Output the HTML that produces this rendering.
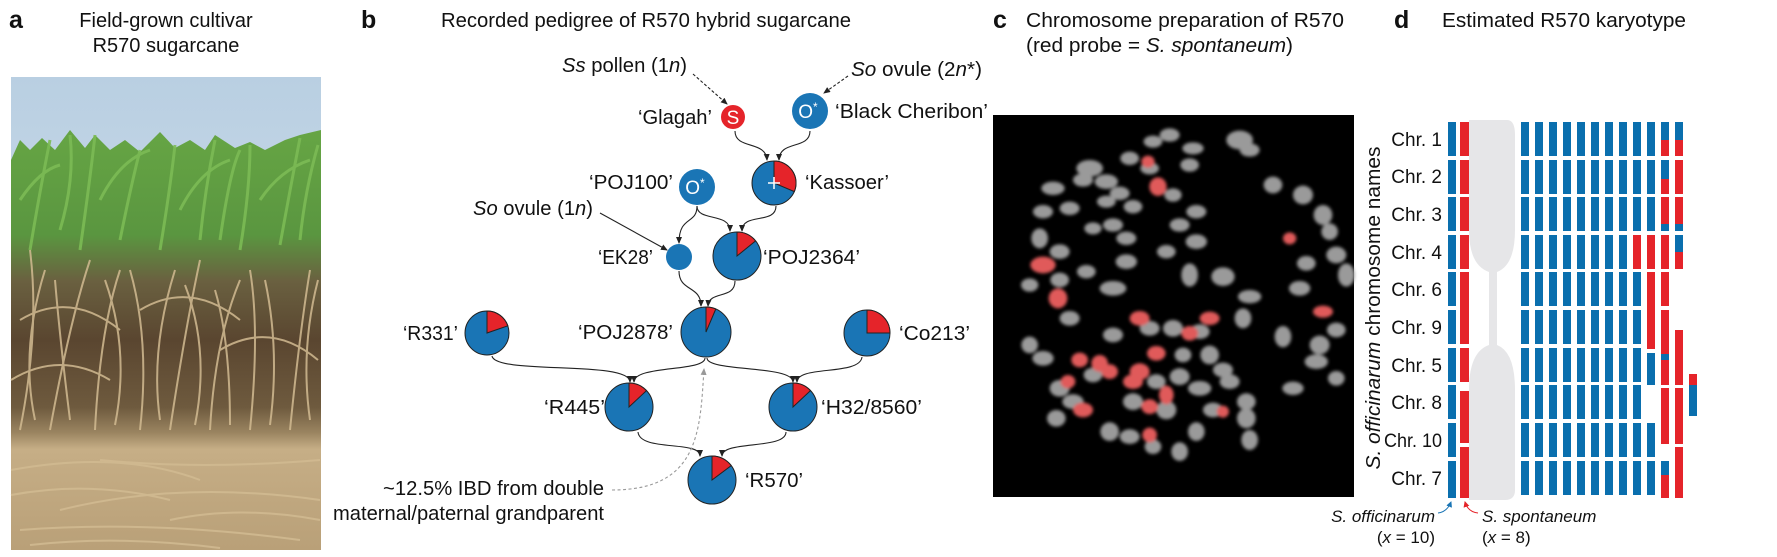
<!DOCTYPE html>
<html><head><meta charset="utf-8"><style>
html,body{margin:0;padding:0;background:#fff}
svg{display:block}
text{font-family:"Liberation Sans",Arial,sans-serif;fill:#111}
</style></head><body>
<svg width="1777" height="557" viewBox="0 0 1777 557" xmlns="http://www.w3.org/2000/svg">
<defs>
<marker id="ar" markerWidth="8" markerHeight="8" refX="6" refY="3" orient="auto" markerUnits="userSpaceOnUse"><path d="M0,0 L7,3 L0,6 Z" fill="#222"/></marker>
<marker id="arg" markerWidth="8" markerHeight="8" refX="6" refY="3" orient="auto" markerUnits="userSpaceOnUse"><path d="M0,0 L7,3 L0,6 Z" fill="#999"/></marker>
<marker id="arb" markerWidth="8" markerHeight="8" refX="5" refY="3" orient="auto" markerUnits="userSpaceOnUse"><path d="M0,0 L6,3 L0,6 Z" fill="#1a75b5"/></marker>
<marker id="arr" markerWidth="8" markerHeight="8" refX="5" refY="3" orient="auto" markerUnits="userSpaceOnUse"><path d="M0,0 L6,3 L0,6 Z" fill="#e5242a"/></marker>
<linearGradient id="sky" x1="0" y1="0" x2="0" y2="1"><stop offset="0" stop-color="#b9cfe2"/><stop offset="1" stop-color="#dbe6ee"/></linearGradient>
<linearGradient id="fld" x1="0" y1="0" x2="0" y2="1">
<stop offset="0" stop-color="#66a544"/><stop offset="0.25" stop-color="#5a9640"/><stop offset="0.36" stop-color="#6a6040"/><stop offset="0.5" stop-color="#5a4630"/><stop offset="0.66" stop-color="#6e5a3e"/><stop offset="0.72" stop-color="#9a8460"/><stop offset="0.76" stop-color="#c6ae86"/><stop offset="1" stop-color="#b9a078"/></linearGradient>
<filter id="bl" x="-50%" y="-50%" width="200%" height="200%"><feGaussianBlur stdDeviation="5"/></filter>
</defs>

<text x="9" y="28" font-size="25" font-weight="bold">a</text>
<text x="166" y="27" font-size="20" text-anchor="middle">Field-grown cultivar</text>
<text x="166" y="52" font-size="20" text-anchor="middle">R570 sugarcane</text>
<text x="361" y="28" font-size="25" font-weight="bold">b</text>
<text x="441" y="27" font-size="20" textLength="410" lengthAdjust="spacingAndGlyphs">Recorded pedigree of R570 hybrid sugarcane</text>
<text x="993" y="28" font-size="25" font-weight="bold">c</text>
<text x="1026" y="27" font-size="20" textLength="318" lengthAdjust="spacingAndGlyphs">Chromosome preparation of R570</text>
<text x="1026" y="52" font-size="20" textLength="267" lengthAdjust="spacingAndGlyphs">(red probe = <tspan font-style="italic">S. spontaneum</tspan>)</text>
<text x="1394" y="28" font-size="25" font-weight="bold">d</text>
<text x="1442" y="27" font-size="20" textLength="244" lengthAdjust="spacingAndGlyphs">Estimated R570 karyotype</text>

<!-- Photo a -->
<rect x="11" y="77" width="310" height="473" fill="url(#sky)"/>
<path d="M11,160 L20,140 30,150 42,138 55,150 70,130 85,148 95,135 110,150 125,140 140,152 160,132 175,148 190,140 205,150 215,135 235,148 250,142 265,150 285,140 300,135 321,130 L321,550 L11,550 Z" fill="url(#fld)"/>
<g stroke="#7cbb55" stroke-width="3" fill="none" opacity="0.9">
<path d="M30,250 Q40,190 50,140"/><path d="M80,250 Q90,180 95,135"/><path d="M120,240 Q130,190 140,150"/><path d="M160,250 Q170,190 175,145"/><path d="M200,240 Q205,190 215,140"/><path d="M240,250 Q250,190 250,145"/><path d="M280,245 Q290,190 300,138"/><path d="M60,230 Q75,180 70,135"/><path d="M220,240 Q230,170 240,150"/><path d="M300,240 Q305,190 318,145"/>
<path d="M100,200 Q120,160 150,150"/><path d="M180,210 Q200,170 230,160"/><path d="M20,200 Q40,170 60,165"/><path d="M260,200 Q280,170 310,160"/>
</g>
<g stroke="#d2bb92" stroke-width="2" fill="none" opacity="0.85">
<path d="M20,430 Q40,330 30,250"/><path d="M50,430 Q70,320 90,260"/><path d="M95,430 Q100,330 120,270"/><path d="M140,430 Q150,340 130,270"/><path d="M170,430 Q185,330 200,260"/><path d="M210,430 Q215,340 240,280"/><path d="M250,430 Q260,330 250,270"/><path d="M290,430 Q300,330 310,270"/><path d="M70,420 Q60,340 55,280"/><path d="M230,425 Q230,340 215,290"/>
<path d="M35,420 Q20,350 45,270"/><path d="M115,425 Q130,350 105,280"/><path d="M160,420 Q150,350 175,270"/><path d="M195,425 Q210,350 185,285"/><path d="M270,425 Q280,350 265,280"/><path d="M310,420 Q300,350 318,280"/>
<path d="M20,320 Q70,290 120,330"/><path d="M140,310 Q190,280 240,320"/><path d="M220,350 Q270,320 318,360"/><path d="M11,380 Q60,350 110,380"/>
<path d="M11,470 Q120,450 200,480"/><path d="M60,510 Q180,480 320,500"/><path d="M20,530 Q150,520 300,540"/><path d="M100,460 Q200,470 320,460"/><path d="M11,495 Q90,480 170,500"/><path d="M170,520 Q240,505 320,520"/><path d="M30,545 Q120,535 220,548"/>
</g>

<g fill="none" stroke="#222" stroke-width="1.1">
<path d="M693,74 L727,104" stroke-dasharray="3,2" marker-end="url(#ar)"/>
<path d="M848,76 L824,93" stroke-dasharray="3,2" marker-end="url(#ar)"/>
<path d="M735,131 C735,150 766,140 767,160" marker-end="url(#ar)"/>
<path d="M810,131 C810,150 779,140 779,160" marker-end="url(#ar)"/>
<path d="M697,206 C697,225 679,215 679,243" marker-end="url(#ar)"/>
<path d="M697,206 C697,222 730,212 730,231" marker-end="url(#ar)"/>
<path d="M776,206 C776,225 742,212 742,231" marker-end="url(#ar)"/>
<path d="M600,213 L667,250" marker-end="url(#ar)"/>
<path d="M679,271 C679,292 701,285 701,306" marker-end="url(#ar)"/>
<path d="M735,281 C735,300 709,290 708,306" marker-end="url(#ar)"/>
<path d="M492,356 C495,375 630,360 630,382" marker-end="url(#ar)"/>
<path d="M705,358 C705,372 634,365 634,382" marker-end="url(#ar)"/>
<path d="M707,358 C707,372 793,365 793,382" marker-end="url(#ar)"/>
<path d="M862,357 C860,376 797,365 797,382" marker-end="url(#ar)"/>
<path d="M638,432 C640,452 700,440 700,456" marker-end="url(#ar)"/>
<path d="M786,432 C786,450 722,440 722,456" marker-end="url(#ar)"/>
<path d="M612,490 C700,490 700,430 704,369" stroke="#999" stroke-dasharray="3,2.5" marker-end="url(#arg)"/>
</g>

<circle cx="733" cy="117" r="12" fill="#e5242a"/>
<text x="733" y="124" font-size="19" text-anchor="middle" style="fill:#fff">S</text>
<circle cx="810" cy="111" r="18" fill="#1a75b5"/>
<text x="808" y="118" font-size="19" text-anchor="middle" style="fill:#fff">O<tspan font-size="12" dy="-7">*</tspan></text>
<circle cx="697" cy="187" r="18" fill="#1a75b5"/>
<text x="695" y="194" font-size="19" text-anchor="middle" style="fill:#fff">O<tspan font-size="12" dy="-7">*</tspan></text>
<circle cx="679" cy="257" r="13" fill="#1a75b5"/>

<g stroke="#222" stroke-width="1">
<circle cx="774" cy="183" r="22" fill="#1a75b5"/><path d="M774,183 L774,161 A22,22 0 0 1 794.3,191.6 Z" fill="#e5242a"/>
<circle cx="737" cy="256" r="24" fill="#1a75b5"/><path d="M737,256 L737,232 A24,24 0 0 1 755.6,240.9 Z" fill="#e5242a"/>
<circle cx="706" cy="332" r="25" fill="#1a75b5"/><path d="M706,332 L706,307 A25,25 0 0 1 715.8,309 Z" fill="#e5242a"/>
<circle cx="487" cy="333" r="22" fill="#1a75b5"/><path d="M487,333 L487,311 A22,22 0 0 1 507.8,325.8 Z" fill="#e5242a"/>
<circle cx="867" cy="333" r="23" fill="#1a75b5"/><path d="M867,333 L867,310 A23,23 0 0 1 890,333 Z" fill="#e5242a"/>
<circle cx="629" cy="407" r="24" fill="#1a75b5"/><path d="M629,407 L629,383 A24,24 0 0 1 646.5,390.6 Z" fill="#e5242a"/>
<circle cx="793" cy="407" r="24" fill="#1a75b5"/><path d="M793,407 L793,383 A24,24 0 0 1 810.5,390.6 Z" fill="#e5242a"/>
<circle cx="712" cy="480" r="24" fill="#1a75b5"/><path d="M712,480 L712,456 A24,24 0 0 1 731.2,465.6 Z" fill="#e5242a"/>
</g>
<path d="M768,183 h12 M774,177 v12" stroke="#fff" stroke-width="1.5"/>

<g font-size="20">
<text x="562" y="72" textLength="125" lengthAdjust="spacingAndGlyphs"><tspan font-style="italic">Ss</tspan> pollen (1<tspan font-style="italic">n</tspan>)</text>
<text x="851" y="76" textLength="131" lengthAdjust="spacingAndGlyphs"><tspan font-style="italic">So</tspan> ovule (2<tspan font-style="italic">n</tspan>*)</text>
<text x="638" y="124" textLength="74" lengthAdjust="spacingAndGlyphs">‘Glagah’</text>
<text x="835" y="118" textLength="153" lengthAdjust="spacingAndGlyphs">‘Black Cheribon’</text>
<text x="805" y="189" textLength="84" lengthAdjust="spacingAndGlyphs">‘Kassoer’</text>
<text x="589" y="189" textLength="84" lengthAdjust="spacingAndGlyphs">‘POJ100’</text>
<text x="473" y="215" textLength="120" lengthAdjust="spacingAndGlyphs"><tspan font-style="italic">So</tspan> ovule (1<tspan font-style="italic">n</tspan>)</text>
<text x="598" y="264" textLength="55" lengthAdjust="spacingAndGlyphs">‘EK28’</text>
<text x="763" y="264" textLength="97" lengthAdjust="spacingAndGlyphs">‘POJ2364’</text>
<text x="403" y="340" textLength="55" lengthAdjust="spacingAndGlyphs">‘R331’</text>
<text x="578" y="339" textLength="95" lengthAdjust="spacingAndGlyphs">‘POJ2878’</text>
<text x="899" y="340" textLength="71" lengthAdjust="spacingAndGlyphs">‘Co213’</text>
<text x="544" y="414" textLength="61" lengthAdjust="spacingAndGlyphs">‘R445’</text>
<text x="821" y="414" textLength="101" lengthAdjust="spacingAndGlyphs">‘H32/8560’</text>
<text x="745" y="487" textLength="58" lengthAdjust="spacingAndGlyphs">‘R570’</text>
<text x="383" y="495" textLength="221" lengthAdjust="spacingAndGlyphs">~12.5% IBD from double</text>
<text x="333" y="520" textLength="271" lengthAdjust="spacingAndGlyphs">maternal/paternal grandparent</text>
</g>

<rect x="993" y="115" width="361" height="382" fill="#000"/>
<g transform="translate(993,115) scale(0.3333)" filter="url(#bl)">
<g fill="#9a9a9a">
<ellipse cx="530" cy="60" rx="30" ry="20"/><ellipse cx="600" cy="100" rx="32" ry="18"/><ellipse cx="740" cy="75" rx="40" ry="28"/><ellipse cx="770" cy="105" rx="30" ry="20"/><ellipse cx="480" cy="80" rx="28" ry="18"/><ellipse cx="410" cy="130" rx="28" ry="20"/><ellipse cx="470" cy="160" rx="28" ry="18"/><ellipse cx="590" cy="150" rx="28" ry="20"/><ellipse cx="290" cy="160" rx="40" ry="25"/><ellipse cx="340" cy="200" rx="35" ry="22"/><ellipse cx="180" cy="220" rx="35" ry="20"/><ellipse cx="230" cy="280" rx="30" ry="20"/><ellipse cx="150" cy="290" rx="30" ry="20"/><ellipse cx="270" cy="195" rx="30" ry="20"/><ellipse cx="380" cy="235" rx="30" ry="20"/><ellipse cx="420" cy="275" rx="28" ry="20"/><ellipse cx="340" cy="260" rx="28" ry="18"/><ellipse cx="360" cy="330" rx="30" ry="20"/><ellipse cx="400" cy="370" rx="30" ry="20"/><ellipse cx="300" cy="340" rx="26" ry="18"/><ellipse cx="140" cy="370" rx="25" ry="30"/><ellipse cx="200" cy="410" rx="30" ry="22"/><ellipse cx="280" cy="470" rx="28" ry="20"/><ellipse cx="400" cy="440" rx="32" ry="22"/><ellipse cx="360" cy="520" rx="40" ry="22"/><ellipse cx="520" cy="410" rx="28" ry="20"/><ellipse cx="560" cy="330" rx="30" ry="20"/><ellipse cx="610" cy="290" rx="30" ry="20"/><ellipse cx="610" cy="380" rx="32" ry="22"/><ellipse cx="540" cy="240" rx="26" ry="20"/><ellipse cx="590" cy="480" rx="25" ry="35"/><ellipse cx="690" cy="485" rx="35" ry="28"/><ellipse cx="770" cy="545" rx="35" ry="20"/><ellipse cx="750" cy="610" rx="25" ry="30"/><ellipse cx="840" cy="210" rx="28" ry="25"/><ellipse cx="930" cy="240" rx="30" ry="28"/><ellipse cx="990" cy="300" rx="28" ry="30"/><ellipse cx="1010" cy="350" rx="25" ry="25"/><ellipse cx="1030" cy="420" rx="30" ry="25"/><ellipse cx="940" cy="445" rx="28" ry="22"/><ellipse cx="920" cy="520" rx="32" ry="22"/><ellipse cx="1060" cy="480" rx="25" ry="35"/><ellipse cx="870" cy="665" rx="25" ry="32"/><ellipse cx="980" cy="690" rx="30" ry="28"/><ellipse cx="970" cy="740" rx="35" ry="22"/><ellipse cx="1030" cy="790" rx="25" ry="22"/><ellipse cx="900" cy="820" rx="32" ry="20"/><ellipse cx="1030" cy="645" rx="28" ry="22"/><ellipse cx="110" cy="690" rx="25" ry="25"/><ellipse cx="150" cy="730" rx="32" ry="22"/><ellipse cx="230" cy="610" rx="30" ry="22"/><ellipse cx="360" cy="660" rx="30" ry="22"/><ellipse cx="470" cy="640" rx="30" ry="22"/><ellipse cx="540" cy="640" rx="30" ry="25"/><ellipse cx="620" cy="650" rx="30" ry="22"/><ellipse cx="650" cy="720" rx="28" ry="28"/><ellipse cx="690" cy="765" rx="30" ry="22"/><ellipse cx="710" cy="800" rx="30" ry="22"/><ellipse cx="620" cy="820" rx="35" ry="22"/><ellipse cx="560" cy="785" rx="30" ry="25"/><ellipse cx="490" cy="800" rx="28" ry="22"/><ellipse cx="520" cy="885" rx="30" ry="28"/><ellipse cx="420" cy="860" rx="30" ry="25"/><ellipse cx="350" cy="950" rx="28" ry="28"/><ellipse cx="410" cy="965" rx="30" ry="22"/><ellipse cx="560" cy="1010" rx="25" ry="28"/><ellipse cx="610" cy="950" rx="25" ry="28"/><ellipse cx="480" cy="995" rx="25" ry="22"/><ellipse cx="200" cy="820" rx="30" ry="25"/><ellipse cx="240" cy="860" rx="32" ry="22"/><ellipse cx="190" cy="910" rx="28" ry="25"/><ellipse cx="300" cy="780" rx="28" ry="22"/><ellipse cx="660" cy="885" rx="30" ry="22"/><ellipse cx="760" cy="910" rx="28" ry="30"/><ellipse cx="770" cy="975" rx="25" ry="30"/><ellipse cx="200" cy="495" rx="28" ry="22"/><ellipse cx="110" cy="510" rx="26" ry="20"/><ellipse cx="760" cy="860" rx="28" ry="25"/><ellipse cx="570" cy="720" rx="25" ry="22"/>
</g>
<g fill="#e05a5a">
<ellipse cx="495" cy="215" rx="26" ry="28"/><ellipse cx="465" cy="140" rx="20" ry="18"/><ellipse cx="150" cy="450" rx="38" ry="25"/><ellipse cx="195" cy="550" rx="28" ry="30"/><ellipse cx="440" cy="610" rx="30" ry="22"/><ellipse cx="650" cy="610" rx="30" ry="20"/><ellipse cx="590" cy="655" rx="25" ry="22"/><ellipse cx="490" cy="715" rx="28" ry="22"/><ellipse cx="260" cy="735" rx="25" ry="22"/><ellipse cx="320" cy="745" rx="25" ry="25"/><ellipse cx="350" cy="770" rx="25" ry="22"/><ellipse cx="440" cy="770" rx="30" ry="25"/><ellipse cx="420" cy="800" rx="30" ry="22"/><ellipse cx="520" cy="840" rx="22" ry="28"/><ellipse cx="470" cy="875" rx="25" ry="22"/><ellipse cx="270" cy="885" rx="30" ry="22"/><ellipse cx="225" cy="800" rx="22" ry="20"/><ellipse cx="470" cy="960" rx="22" ry="22"/><ellipse cx="690" cy="890" rx="18" ry="18"/><ellipse cx="990" cy="590" rx="30" ry="18"/><ellipse cx="890" cy="370" rx="20" ry="18"/>
</g>
</g>

<path d="M1469,120 L1507,120 Q1515,120 1515,135 L1515,230 Q1515,265 1497,272 L1497,345 Q1515,352 1515,390 L1515,490 Q1515,500 1505,500 L1469,500 L1469,390 Q1469,352 1489,345 L1489,272 Q1469,265 1469,230 Z" fill="#e6e6e8"/>
<g font-size="19" text-anchor="end">
<text x="1442" y="146">Chr. 1</text><text x="1442" y="183">Chr. 2</text><text x="1442" y="221">Chr. 3</text><text x="1442" y="259">Chr. 4</text><text x="1442" y="296">Chr. 6</text><text x="1442" y="334">Chr. 9</text><text x="1442" y="372">Chr. 5</text><text x="1442" y="409">Chr. 8</text><text x="1442" y="447" textLength="58" lengthAdjust="spacingAndGlyphs">Chr. 10</text><text x="1442" y="485">Chr. 7</text>
</g>
<text transform="translate(1380,308) rotate(-90)" font-size="20" text-anchor="middle" textLength="323" lengthAdjust="spacingAndGlyphs"><tspan font-style="italic">S. officinarum</tspan> chromosome names</text>

<g fill="#0a6fae">
<rect x="1448" y="122" width="8" height="34"/><rect x="1448" y="160" width="8" height="34"/><rect x="1448" y="197" width="8" height="34"/><rect x="1448" y="235" width="8" height="34"/><rect x="1448" y="272" width="8" height="34"/><rect x="1448" y="310" width="8" height="34"/><rect x="1448" y="348" width="8" height="34"/><rect x="1448" y="385" width="8" height="34"/><rect x="1448" y="423" width="8" height="34"/><rect x="1448" y="461" width="8" height="37"/>
</g>
<g fill="#e5242a">
<rect x="1460" y="122" width="9" height="34"/><rect x="1460" y="160" width="9" height="34"/><rect x="1460" y="197" width="9" height="34"/><rect x="1460" y="235" width="9" height="34"/><rect x="1460" y="272" width="9" height="72"/><rect x="1460" y="348" width="9" height="34"/><rect x="1460" y="391" width="9" height="52"/><rect x="1460" y="447" width="9" height="51"/>
</g>

<g id="row" fill="#0a6fae">
<rect x="1521" y="122" width="8" height="34"/><rect x="1535" y="122" width="8" height="34"/><rect x="1549" y="122" width="8" height="34"/><rect x="1563" y="122" width="8" height="34"/><rect x="1577" y="122" width="8" height="34"/><rect x="1591" y="122" width="8" height="34"/><rect x="1605" y="122" width="8" height="34"/><rect x="1619" y="122" width="8" height="34"/>
</g>
<use href="#row" y="38"/><use href="#row" y="75"/><use href="#row" y="113"/><use href="#row" y="150"/><use href="#row" y="188"/><use href="#row" y="226"/><use href="#row" y="263"/><use href="#row" y="301"/><use href="#row" y="339"/>
<g fill="#0a6fae">
<rect x="1633" y="122" width="8" height="34"/><rect x="1633" y="160" width="8" height="34"/><rect x="1633" y="197" width="8" height="34"/><rect x="1633" y="272" width="8" height="34"/><rect x="1633" y="310" width="8" height="34"/><rect x="1633" y="348" width="8" height="34"/><rect x="1633" y="385" width="8" height="34"/><rect x="1633" y="423" width="8" height="34"/><rect x="1633" y="461" width="8" height="34"/>
<rect x="1647" y="122" width="8" height="34"/><rect x="1647" y="160" width="8" height="34"/><rect x="1647" y="197" width="8" height="34"/><rect x="1647" y="353" width="8" height="32"/><rect x="1647" y="423" width="8" height="34"/><rect x="1647" y="461" width="8" height="34"/>
<rect x="1661" y="122" width="8" height="18"/><rect x="1661" y="160" width="8" height="19"/><rect x="1661" y="224" width="8" height="7"/><rect x="1661" y="354" width="8" height="6"/><rect x="1661" y="461" width="8" height="14"/>
<rect x="1675" y="122" width="8" height="18"/><rect x="1675" y="224" width="8" height="7"/><rect x="1675" y="235" width="8" height="17"/>
<rect x="1689" y="374" width="8" height="42"/>
</g>
<g fill="#e5242a">
<rect x="1633" y="235" width="8" height="34"/>
<rect x="1647" y="235" width="8" height="34"/><rect x="1647" y="272" width="8" height="77"/>
<rect x="1661" y="140" width="8" height="16"/><rect x="1661" y="179" width="8" height="15"/><rect x="1661" y="197" width="8" height="27"/><rect x="1661" y="235" width="8" height="34"/><rect x="1661" y="272" width="8" height="34"/><rect x="1661" y="310" width="8" height="44"/><rect x="1661" y="360" width="8" height="25"/><rect x="1661" y="388" width="8" height="56"/><rect x="1661" y="475" width="8" height="23"/>
<rect x="1675" y="140" width="8" height="16"/><rect x="1675" y="160" width="8" height="34"/><rect x="1675" y="197" width="8" height="27"/><rect x="1675" y="252" width="8" height="17"/><rect x="1675" y="330" width="8" height="55"/><rect x="1675" y="388" width="8" height="56"/><rect x="1675" y="447" width="8" height="51"/>
<rect x="1689" y="374" width="8" height="11"/>
</g>

<path d="M1438,513 Q1447,512 1451,502" fill="none" stroke="#1a75b5" stroke-width="1" marker-end="url(#arb)"/>
<path d="M1478,513 Q1468,512 1465,502" fill="none" stroke="#e5242a" stroke-width="1" marker-end="url(#arr)"/>
<g font-size="17">
<text x="1435" y="522" text-anchor="end" font-style="italic">S. officinarum</text>
<text x="1435" y="543" text-anchor="end">(<tspan font-style="italic">x</tspan> = 10)</text>
<text x="1482" y="522" font-style="italic">S. spontaneum</text>
<text x="1482" y="543">(<tspan font-style="italic">x</tspan> = 8)</text>
</g>
</svg>
</body></html>
